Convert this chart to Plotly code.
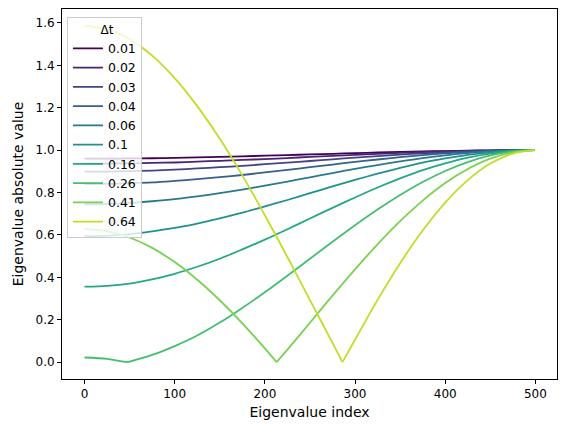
import plotly.graph_objects as go

# eigenvalue index samples
idx = [0, 25, 50, 75, 100, 125, 150, 175, 200, 225, 250,
       275, 300, 325, 350, 375, 400, 425, 450, 475, 499]

v_001 = [0.960, 0.960, 0.961, 0.962, 0.964, 0.966, 0.968, 0.971, 0.974, 0.977, 0.980,
         0.983, 0.986, 0.989, 0.992, 0.994, 0.996, 0.998, 0.999, 1.000, 1.000]
v_002 = [0.936, 0.937, 0.938, 0.940, 0.942, 0.946, 0.950, 0.954, 0.958, 0.963, 0.968,
         0.973, 0.978, 0.983, 0.987, 0.991, 0.994, 0.997, 0.998, 1.000, 1.000]
v_003 = [0.899, 0.899, 0.901, 0.904, 0.908, 0.914, 0.920, 0.926, 0.934, 0.941, 0.949,
         0.957, 0.965, 0.972, 0.979, 0.985, 0.990, 0.994, 0.998, 0.999, 1.000]
v_004 = [0.840, 0.841, 0.844, 0.848, 0.855, 0.863, 0.873, 0.883, 0.895, 0.907, 0.920,
         0.932, 0.945, 0.956, 0.967, 0.977, 0.985, 0.991, 0.996, 0.999, 1.000]
v_006 = [0.745, 0.746, 0.751, 0.759, 0.769, 0.782, 0.797, 0.814, 0.833, 0.852, 0.872,
         0.892, 0.912, 0.930, 0.947, 0.963, 0.976, 0.986, 0.994, 0.998, 1.000]
v_01 = [0.594, 0.597, 0.604, 0.617, 0.633, 0.654, 0.678, 0.705, 0.735, 0.765, 0.797,
        0.829, 0.860, 0.889, 0.916, 0.941, 0.961, 0.978, 0.990, 0.998, 1.000]
v_016 = [0.356, 0.360, 0.371, 0.391, 0.417, 0.450, 0.488, 0.532, 0.578, 0.627, 0.678,
         0.728, 0.777, 0.824, 0.867, 0.906, 0.938, 0.965, 0.984, 0.996, 1.000]

idx_026 = [0, 25, 47, 50, 75, 100, 125, 150, 175, 200, 225, 250,
           275, 300, 325, 350, 375, 400, 425, 450, 475, 499]
v_026 = [0.022, 0.016, 0.000, 0.003, 0.034, 0.076, 0.126, 0.187, 0.256, 0.330, 0.408, 0.488,
         0.568, 0.646, 0.720, 0.789, 0.850, 0.902, 0.944, 0.975, 0.994, 1.000]

idx_041 = [0, 25, 50, 75, 100, 125, 150, 175, 200, 213, 225, 250,
           275, 300, 325, 350, 375, 400, 425, 450, 475, 499]
v_041 = [0.628, 0.618, 0.588, 0.539, 0.472, 0.389, 0.292, 0.183, 0.065, 0.000, 0.059, 0.186,
         0.314, 0.438, 0.556, 0.665, 0.762, 0.845, 0.911, 0.960, 0.990, 1.000]

idx_064 = [0, 25, 50, 75, 100, 125, 150, 175, 200, 225, 250,
           275, 286, 300, 325, 350, 375, 400, 425, 450, 475, 499]
v_064 = [1.587, 1.571, 1.524, 1.446, 1.340, 1.208, 1.054, 0.881, 0.693, 0.496, 0.293,
         0.091, 0.000, 0.106, 0.294, 0.467, 0.621, 0.753, 0.859, 0.937, 0.984, 1.000]

dt_labels = ["0.01", "0.02", "0.03", "0.04", "0.06", "0.1", "0.16", "0.26", "0.41", "0.64"]

series = [
    (idx, v_001), (idx, v_002), (idx, v_003), (idx, v_004), (idx, v_006),
    (idx, v_01), (idx, v_016), (idx_026, v_026), (idx_041, v_041), (idx_064, v_064),
]

# viridis at 0, 0.1, ..., 0.9
colors = ["#440154", "#482475", "#414487", "#355f8d", "#2a788e",
          "#21918c", "#22a884", "#44bf70", "#7ad151", "#bddf26"]

fig = go.Figure()
for label, (xs, ys), color in zip(dt_labels, series, colors):
    # split at the kink so the spline keeps it sharp
    m = ys.index(min(ys))
    if 0 < m < len(ys) - 1:
        parts = [(xs[:m + 1], ys[:m + 1]), (xs[m:], ys[m:])]
    else:
        parts = [(xs, ys)]
    for j, (px_, py_) in enumerate(parts):
        fig.add_trace(go.Scatter(
            x=px_, y=py_, mode="lines", name=label,
            legendgroup=label, showlegend=(j == 0),
            line=dict(color=color, width=1.8, shape="spline", smoothing=0.8),
        ))

axis_style = dict(
    showline=True, mirror=True, linecolor="black", linewidth=1,
    ticks="outside", ticklen=4, tickcolor="black",
    showgrid=False, zeroline=False, automargin=False,
)

# page body has an 8px margin, so the figure is a bit smaller than the window
fig.update_layout(
    width=551, height=416,
    margin=dict(l=54, r=2, t=1, b=45),
    plot_bgcolor="white", paper_bgcolor="white",
    font=dict(family="DejaVu Sans", size=12, color="black"),
    xaxis=dict(range=[-24.95, 523.95], tickvals=[0, 100, 200, 300, 400, 500],
               title=dict(text="Eigenvalue index", standoff=6), **axis_style),
    yaxis=dict(range=[-0.0794, 1.666], tickvals=[0, 0.2, 0.4, 0.6, 0.8, 1.0, 1.2, 1.4, 1.6],
               tickformat=".1f",
               title=dict(text="Eigenvalue absolute value", standoff=8), **axis_style),
    legend=dict(
        x=0.01, y=0.978, xanchor="left", yanchor="top",
        bgcolor="rgba(255,255,255,0.8)", bordercolor="#cccccc", borderwidth=1,
        title=dict(text="\u00a0" * 8 + "Δt", side="top", font=dict(size=12)),
        font=dict(size=12.5), tracegroupgap=0,
    ),
    showlegend=True,
)

fig.write_html("out.html")
